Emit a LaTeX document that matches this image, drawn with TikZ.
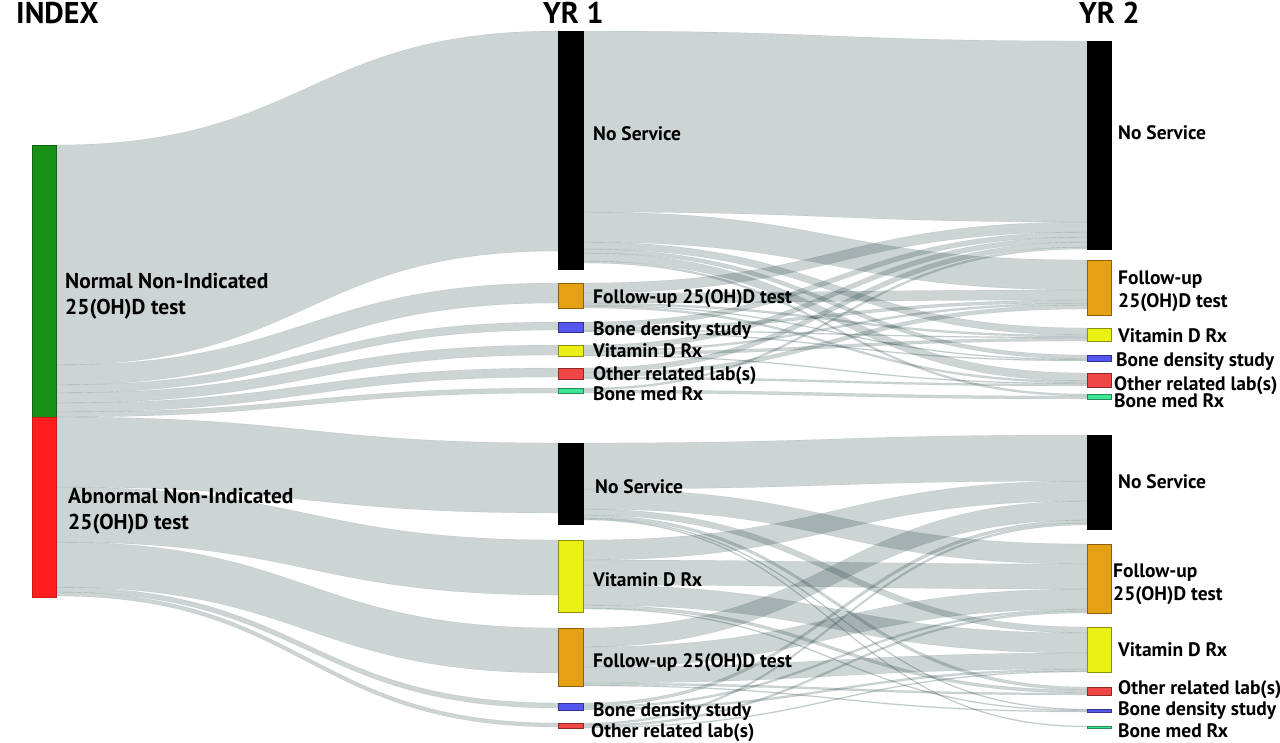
\documentclass[tikz,border=0pt]{standalone}
\usepackage{fontspec}
\setmainfont{PT Sans}
\usepackage{tikz}
\usetikzlibrary{positioning,calc,backgrounds}

\definecolor{flowgray}{RGB}{5,40,40}
\definecolor{nrmgreen}{RGB}{22,145,22}
\definecolor{abnred}{RGB}{255,30,30}
\definecolor{fuorange}{RGB}{230,160,20}
\definecolor{bdblue}{RGB}{85,85,240}
\definecolor{vdyellow}{RGB}{235,240,20}
\definecolor{otred}{RGB}{240,70,70}
\definecolor{bmmint}{RGB}{60,230,150}

\begin{document}
\begin{tikzpicture}[x=1pt, y=-1pt,
  bar/.style={rectangle, inner sep=0pt, outer sep=0pt, minimum width=24pt, anchor=north west, line width=0.6pt},
  lbl/.style={font=\bfseries\fontsize{19.5}{23}\selectfont, inner sep=0pt, text height=13.7pt, text depth=0pt},
  lbltwo/.style={font=\bfseries\fontsize{19.5}{23}\selectfont, inner sep=0pt, align=left},
  bigl/.style={font=\bfseries\fontsize{21.5}{26}\selectfont, inner sep=0pt, align=left},
  head/.style={font=\bfseries\fontsize{30}{32}\selectfont, inner sep=0pt, anchor=west, text height=21pt, text depth=0pt},
  flowband/.style={fill=flowgray, fill opacity=0.2, draw=flowgray, draw opacity=0.12, line width=0.4pt}]

\useasboundingbox (0,0) rectangle (1280,742);

% headings
\node[head] (hidx) at (16,12.5) {INDEX};
\node[head] (hyr1) at (543,12.5) {YR 1};
\node[head] (hyr2) at (1079,12.5) {YR 2};

% index column
\node[bar, minimum height=272pt, fill=nrmgreen, draw=nrmgreen!70!black] (normal) at (32,145) {};
\node[bar, minimum height=180pt, fill=abnred, draw=abnred!80!black, below=0pt of normal] (abnormal) {};

% year 1, normal group
\node[bar, minimum width=25pt, minimum height=238pt, fill=black, draw=black] (ns1n) at (558,31) {};
\node[bar, minimum width=25pt, minimum height=25pt, fill=fuorange, draw=fuorange!60!black, below=14pt of ns1n] (fu1n) {};
\node[bar, minimum width=25pt, minimum height=10pt, fill=bdblue, draw=bdblue!60!black, below=14pt of fu1n] (bd1n) {};
\node[bar, minimum width=25pt, minimum height=11pt, fill=vdyellow, draw=vdyellow!60!black, below=13pt of bd1n] (vd1n) {};
\node[bar, minimum width=25pt, minimum height=11pt, fill=otred, draw=otred!60!black, below=12pt of vd1n] (ot1n) {};
\node[bar, minimum width=25pt, minimum height=5pt, fill=bmmint, draw=bmmint!60!black, below=9pt of ot1n] (bm1n) {};

% year 1, abnormal group
\node[bar, minimum width=25pt, minimum height=81pt, fill=black, draw=black] (ns1a) at (558,443) {};
\node[bar, minimum width=25pt, minimum height=72pt, fill=vdyellow, draw=vdyellow!60!black, below=16pt of ns1a] (vd1a) {};
\node[bar, minimum width=25pt, minimum height=58pt, fill=fuorange, draw=fuorange!60!black, below=16pt of vd1a] (fu1a) {};
\node[bar, minimum width=25pt, minimum height=7pt, fill=bdblue, draw=bdblue!60!black, below=17pt of fu1a] (bd1a) {};
\node[bar, minimum width=25pt, minimum height=5pt, fill=otred, draw=otred!60!black, below=13pt of bd1a] (ot1a) {};

% year 2, normal group
\node[bar, minimum height=208pt, fill=black, draw=black] (ns2n) at (1087,41) {};
\node[bar, minimum height=55pt, fill=fuorange, draw=fuorange!60!black, below=11pt of ns2n] (fu2n) {};
\node[bar, minimum height=13pt, fill=vdyellow, draw=vdyellow!60!black, below=13pt of fu2n] (vd2n) {};
\node[bar, minimum height=6pt, fill=bdblue, draw=bdblue!60!black, below=14pt of vd2n] (bd2n) {};
\node[bar, minimum height=14pt, fill=otred, draw=otred!60!black, below=12pt of bd2n] (ot2n) {};
\node[bar, minimum height=5pt, fill=bmmint, draw=bmmint!60!black, below=7pt of ot2n] (bm2n) {};

% year 2, abnormal group
\node[bar, minimum height=94pt, fill=black, draw=black] (ns2a) at (1087,435) {};
\node[bar, minimum height=69pt, fill=fuorange, draw=fuorange!60!black, below=15pt of ns2a] (fu2a) {};
\node[bar, minimum height=45pt, fill=vdyellow, draw=vdyellow!60!black, below=14pt of fu2a] (vd2a) {};
\node[bar, minimum height=8pt, fill=otred, draw=otred!60!black, below=15pt of vd2a] (ot2a) {};
\node[bar, minimum height=3pt, fill=bdblue, draw=bdblue!60!black, below=14pt of ot2a] (bd2a) {};
\node[bar, minimum height=2pt, fill=bmmint, draw=bmmint!60!black, below=14pt of bd2a] (bm2a) {};

% flows: source / offset / target / offset / width
\begin{pgfonlayer}{background}
\foreach \src/\soff/\dst/\doff/\flw in {
  normal/0/ns1n/0/220, normal/220/fu1n/0/20, normal/240/bd1n/0/8,
  normal/248/vd1n/0/10, normal/258/ot1n/0/9, normal/267/bm1n/0/5,
  abnormal/0/ns1a/0/70, abnormal/70/vd1a/0/55, abnormal/125/fu1a/0/45,
  abnormal/170/bd1a/0/5, abnormal/175/ot1a/0/4,
  ns1n/0/ns2n/0/181, ns1n/181/fu2n/0/30, ns1n/211/vd2n/0/7,
  ns1n/218/bd2n/0/4, ns1n/222/ot2n/0/8, ns1n/230/bm2n/0/2,
  fu1n/0/ns2n/181/10, fu1n/10/fu2n/30/10, fu1n/20/vd2n/7/2,
  fu1n/22/bd2n/4/1, fu1n/23/ot2n/8/2,
  bd1n/0/ns2n/191/5, bd1n/5/fu2n/40/3, bd1n/8/vd2n/9/1, bd1n/9/bd2n/5/1,
  vd1n/0/ns2n/196/5, vd1n/5/fu2n/43/2, vd1n/7/vd2n/10/3, vd1n/10/ot2n/10/1,
  ot1n/0/ns2n/201/5, ot1n/5/fu2n/45/4, ot1n/9/ot2n/11/2,
  bm1n/0/ns2n/206/2, bm1n/2/bm2n/2/3,
  ns1a/0/ns2a/0/46, ns1a/46/fu2a/0/20, ns1a/66/vd2a/0/6,
  ns1a/72/ot2a/0/3, ns1a/75/bd2a/0/1, ns1a/76/bm2a/0/1,
  vd1a/0/ns2a/46/20, vd1a/20/fu2a/20/25, vd1a/45/vd2a/6/20,
  vd1a/65/ot2a/3/3, vd1a/68/bd2a/1/1,
  fu1a/0/ns2a/66/19, fu1a/19/fu2a/45/20, fu1a/39/vd2a/26/16,
  fu1a/55/ot2a/6/2, fu1a/57/bd2a/2/1,
  bd1a/0/ns2a/85/3, bd1a/3/fu2a/65/2, bd1a/5/vd2a/42/2,
  ot1a/0/ns2a/88/2, ot1a/2/fu2a/67/2, ot1a/4/vd2a/44/1}
  \filldraw[flowband] ($(\src.north east)+(0,\soff)$)
    .. controls +(250,0) and +(-250,0) .. ($(\dst.north west)+(0,\doff)$)
    -- ($(\dst.north west)+(0,{\doff+\flw})$)
    .. controls +(-250,0) and +(250,0) .. ($(\src.north east)+(0,{\soff+\flw})$) -- cycle;
\end{pgfonlayer}

% labels
\node[bigl, right=9pt of normal, yshift=-15pt] (lnormal) {Normal Non-Indicated\\25(OH)D test};
\node[bigl, right=12pt of abnormal, yshift=-4pt] (labnormal) {Abnormal Non-Indicated\\25(OH)D test};

\node[lbl, right=10pt of ns1n, yshift=16.5pt] (lns1n) {No Service};
\node[lbl, right=10pt of fu1n, yshift=-1pt] (lfu1n) {Follow-up 25(OH)D test};
\node[lbl, right=10pt of bd1n, yshift=-2pt] (lbd1n) {Bone density study};
\node[lbl, right=10pt of vd1n] (lvd1n) {Vitamin D Rx};
\node[lbl, right=10pt of ot1n, yshift=-0.5pt] (lot1n) {Other related lab(s)};
\node[lbl, right=10pt of bm1n, yshift=-3pt] (lbm1n) {Bone med Rx};

\node[lbl, right=12pt of ns1a, yshift=-3.5pt] (lns1a) {No Service};
\node[lbl, right=10pt of vd1a, yshift=-4pt] (lvd1a) {Vitamin D Rx};
\node[lbl, right=10pt of fu1a, yshift=-4pt] (lfu1a) {Follow-up 25(OH)D test};
\node[lbl, right=10pt of bd1a, yshift=-3.5pt] (lbd1a) {Bone density study};
\node[lbl, right=8pt of ot1a, yshift=-5.5pt] (lot1a) {Other related lab(s)};

\node[lbl, right=7pt of ns2n, yshift=12pt] (lns2n) {No Service};
\node[lbltwo, right=7pt of fu2n, yshift=-4pt] (lfu2n) {Follow-up\\25(OH)D test};
\node[lbl, right=7pt of vd2n, yshift=-1.5pt] (lvd2n) {Vitamin D Rx};
\node[lbl, right=5pt of bd2n, yshift=-2pt] (lbd2n) {Bone density study};
\node[lbl, right=3pt of ot2n, yshift=-4pt] (lot2n) {Other related lab(s)};
\node[lbl, right=3pt of bm2n, yshift=-4.5pt] (lbm2n) {Bone med Rx};

\node[lbl, right=7pt of ns2a] (lns2a) {No Service};
\node[lbltwo, right=2pt of fu2a, yshift=-6pt] (lfu2a) {Follow-up\\25(OH)D test};
\node[lbl, right=7pt of vd2a] (lvd2a) {Vitamin D Rx};
\node[lbl, right=7pt of ot2a, yshift=3pt] (lot2a) {Other related lab(s)};
\node[lbl, right=7pt of bd2a, yshift=1.5pt] (lbd2a) {Bone density study};
\node[lbl, right=7pt of bm2a, yshift=-4pt] (lbm2a) {Bone med Rx};

\end{tikzpicture}
\end{document}
